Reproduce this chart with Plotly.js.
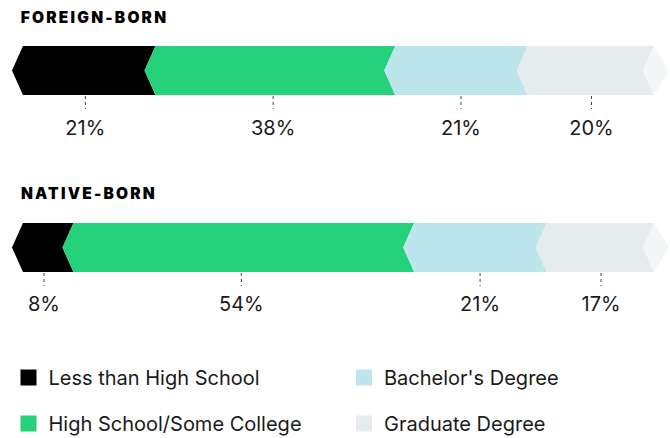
<!DOCTYPE html>
<html>
<head>
<meta charset="utf-8">
<script src="https://cdn.plot.ly/plotly-3.0.1.min.js"></script>
<style>
html,body{margin:0;padding:0;background:#fff;}
#chart{width:670px;height:438px;}
#chart .annotation-text{letter-spacing:2.2px;}
</style>
</head>
<body>
<div id="chart"></div>
<script>
// ---- data ----
const categories = ['Less than High School', 'High School/Some College', "Bachelor's Degree", 'Graduate Degree'];
const groups = ['FOREIGN-BORN', 'NATIVE-BORN'];
const foreignBorn = [21, 38, 21, 20];
const nativeBorn = [8, 54, 21, 17];

// ---- style ----
const colors = ['#000000', '#25d27b', '#bce5ec', '#e6eced'];
const capColor = '#f2f6f7';
const FONT = 'Inter, "Liberation Sans", Arial, sans-serif';
const depth = 1.74;          // chevron depth in percent units
const capTip = 4.1;          // right cap tip beyond 100%
const labelScale = 1.009, labelShift = 1.03;
const titleSpacing = 2.2;    // must match CSS letter-spacing
const rows = [               // y positions (pixel-like axis)
  {top: 46, bot: 95, title: 17.5, tick0: 96, tick1: 109, label: 130},
  {top: 223, bot: 272, title: 193.5, tick0: 273, tick1: 286, label: 306}
];
const series = [foreignBorn, nativeBorn];

const traces = [];
const annotations = [];

series.forEach((vals, r) => {
  const row = rows[r];
  const mid = (row.top + row.bot) / 2;
  let cum = 0;
  const labX = [], labY = [], labT = [];
  const tx = [], ty = [];
  vals.forEach((v, i) => {
    const s = cum, e = cum + v;
    traces.push({
      type: 'scatter', mode: 'lines', fill: 'toself',
      x: [s, s + depth, e + depth, e, e + depth, s + depth, s],
      y: [mid, row.top, row.top, mid, row.bot, row.bot, mid],
      fillcolor: colors[i], line: {width: 0, color: colors[i]},
      hoverinfo: 'skip', showlegend: false
    });
    const c = (s + e) / 2 * labelScale + labelShift;
    labX.push(c); labY.push(row.label); labT.push(v + '%');
    tx.push(c, c, null); ty.push(row.tick0, row.tick1, null);
    cum = e;
  });
  // right cap
  traces.push({
    type: 'scatter', mode: 'lines', fill: 'toself',
    x: [cum, cum + depth, cum + capTip, cum + depth, cum],
    y: [mid, row.top, mid, row.bot, mid],
    fillcolor: capColor, line: {width: 0, color: capColor},
    hoverinfo: 'skip', showlegend: false
  });
  traces.push({
    type: 'scatter', mode: 'lines', x: tx, y: ty,
    line: {color: '#444', width: 1, dash: 'dot'},
    hoverinfo: 'skip', showlegend: false
  });
  traces.push({
    type: 'scatter', mode: 'text', x: labX, y: labY, text: labT,
    textposition: 'middle center',
    textfont: {family: FONT, size: 20, color: '#1a1a1a'},
    hoverinfo: 'skip', showlegend: false
  });
  annotations.push({
    xref: 'paper', x: 20 / 670, xanchor: 'left',
    xshift: groups[r].length * titleSpacing / 2 - 1,
    yref: 'y', y: row.title, yanchor: 'middle',
    text: groups[r], showarrow: false,
    font: {family: 'Inter', size: 15.5, weight: 900, color: '#000'}
  });
});

// legend-only traces
categories.forEach((cat, i) => {
  traces.push({
    type: 'scatter', mode: 'markers', x: [null], y: [null],
    name: cat, legendgroup: 'g' + i,
    legend: (i < 2) ? 'legend' : 'legend2',
    marker: {symbol: 'square', size: 16, color: colors[i], line: {width: 0}},
    showlegend: true
  });
});

const legendCommon = {
  orientation: 'v', xanchor: 'left', yanchor: 'top',
  bgcolor: 'rgba(0,0,0,0)', borderwidth: 0,
  font: {family: FONT, size: 20, color: '#1a1a1a'},
  tracegroupgap: 17, itemclick: false, itemdoubleclick: false
};

const layout = {
  width: 670, height: 438,
  margin: {l: 0, r: 0, t: 0, b: 0, autoexpand: false},
  paper_bgcolor: '#ffffff', plot_bgcolor: '#ffffff',
  xaxis: {range: [-1.90, 104.28], visible: false, fixedrange: true},
  yaxis: {range: [438, 0], visible: false, fixedrange: true},
  showlegend: true,
  legend: Object.assign({}, legendCommon, {x: 8.5 / 670, y: 1 - 358 / 438}),
  legend2: Object.assign({}, legendCommon, {x: 344 / 670, y: 1 - 358 / 438}),
  annotations: annotations,
  font: {family: FONT}
};

Plotly.newPlot('chart', traces, layout, {displayModeBar: false, staticPlot: true});
</script>
</body>
</html>
